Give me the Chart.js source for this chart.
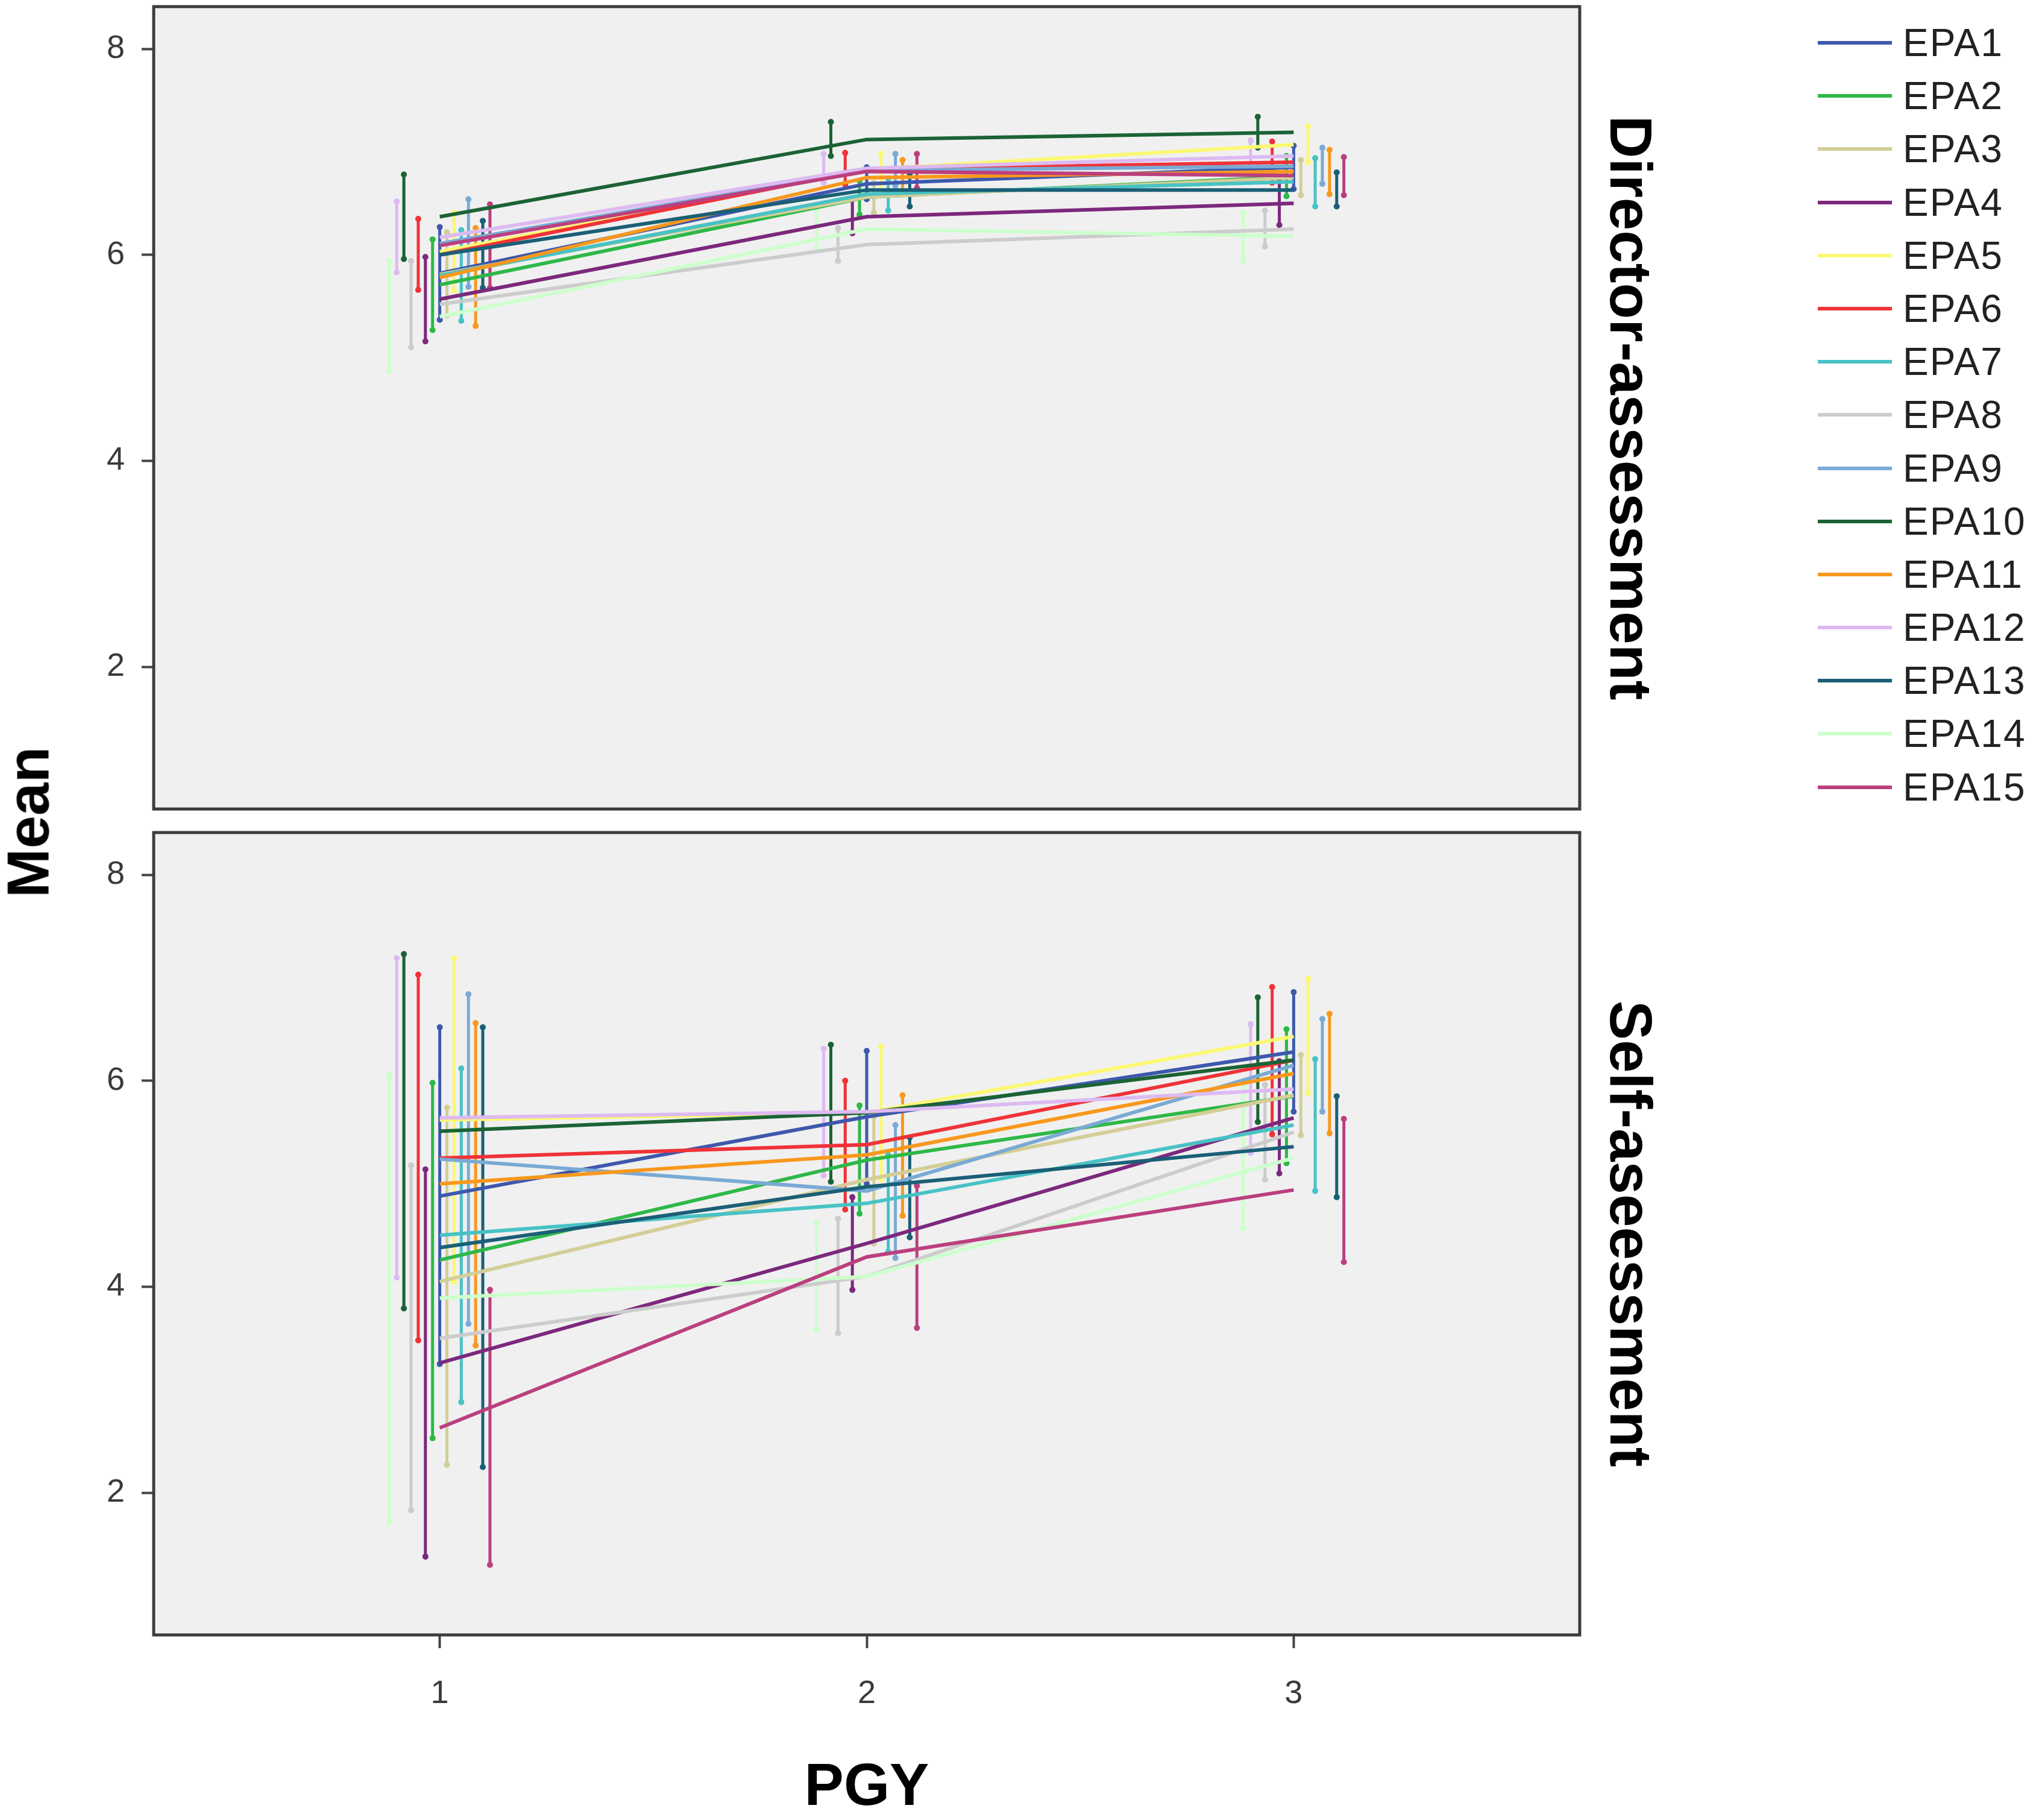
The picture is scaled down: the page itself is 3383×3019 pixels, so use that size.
<!DOCTYPE html>
<html>
<head>
<meta charset="utf-8">
<script src="https://cdn.jsdelivr.net/npm/chart.js@4.4.0/dist/chart.umd.min.js"></script>
<style>
  html, body { margin: 0; padding: 0; background: #fff; }
  body { width: 3383px; height: 3019px; position: relative; overflow: hidden;
         font-family: "Liberation Sans", Arial, sans-serif; }
  canvas { position: absolute; left: 0; }
  #meanLabel { position: absolute; left: 47px; top: 1364px; transform: translate(-50%, -50%) rotate(-90deg);
               font-weight: bold; font-size: 98px; white-space: nowrap; color: #000; }
  #legend { position: absolute; left: 3016px; top: 27px; }
  .item { position: relative; height: 88.2px; }
  .item .swatch { position: absolute; left: 0; top: 41px; width: 123px; height: 6px; }
  .item .txt { position: absolute; left: 141px; top: 0; line-height: 88.2px; font-size: 64px; letter-spacing: 2px; color: #222; white-space: nowrap; }
</style>
</head>
<body>
<canvas id="topChart" width="2800" height="1360" style="top:0px"></canvas>
<canvas id="bottomChart" width="2800" height="1660" style="top:1370px"></canvas>
<div id="meanLabel">Mean</div>
<div id="legend"></div>
<script>
var FONT = '"Liberation Sans", Arial, sans-serif';

// PGY categories and axis ticks
var pgy = [1, 2, 3];
var yTicks = [2, 4, 6, 8];
var epaNames = ['EPA1', 'EPA2', 'EPA3', 'EPA4', 'EPA5', 'EPA6', 'EPA7', 'EPA8',
                'EPA9', 'EPA10', 'EPA11', 'EPA12', 'EPA13', 'EPA14', 'EPA15'];

// Director-assessment: mean and 95% CI, rows = EPA1..EPA15, cols = PGY 1,2,3
var directorMean = [
  [5.82, 6.69, 6.85], [5.71, 6.56, 6.76], [5.81, 6.56, 6.75], [5.57, 6.37, 6.50],
  [6.03, 6.83, 7.07], [6.00, 6.83, 6.90], [5.80, 6.59, 6.71], [5.52, 6.10, 6.25],
  [6.11, 6.82, 6.86], [6.37, 7.12, 7.19], [5.78, 6.75, 6.81], [6.17, 6.84, 6.96],
  [6.00, 6.63, 6.63], [5.40, 6.25, 6.18], [6.09, 6.81, 6.77]
];
var directorLow = [
  [5.37, 6.54, 6.64], [5.27, 6.39, 6.57], [5.41, 6.41, 6.58], [5.16, 6.21, 6.29],
  [5.65, 6.68, 6.90], [5.66, 6.68, 6.70], [5.36, 6.43, 6.47], [5.10, 5.94, 6.08],
  [5.69, 6.67, 6.69], [5.96, 6.96, 7.04], [5.31, 6.59, 6.59], [5.83, 6.70, 6.82],
  [5.68, 6.47, 6.47], [4.87, 6.06, 5.94], [5.68, 6.65, 6.58]
];
var directorHigh = [
  [6.27, 6.85, 7.06], [6.15, 6.72, 6.96], [6.22, 6.70, 6.92], [5.98, 6.54, 6.72],
  [6.41, 6.98, 7.25], [6.35, 6.99, 7.10], [6.24, 6.74, 6.94], [5.94, 6.26, 6.43],
  [6.54, 6.98, 7.04], [6.78, 7.29, 7.34], [6.26, 6.92, 7.02], [6.52, 6.98, 7.11],
  [6.33, 6.79, 6.80], [5.94, 6.45, 6.41], [6.49, 6.98, 6.95]
];

// Self-assessment: mean and 95% CI
var selfMean = [
  [4.88, 5.65, 6.28], [4.26, 5.23, 5.85], [4.05, 5.04, 5.86], [3.26, 4.42, 5.64],
  [5.62, 5.69, 6.43], [5.25, 5.38, 6.20], [4.50, 4.81, 5.57], [3.50, 4.10, 5.50],
  [5.24, 4.93, 6.15], [5.51, 5.69, 6.20], [5.00, 5.28, 6.07], [5.64, 5.70, 5.92],
  [4.38, 4.97, 5.36], [3.89, 4.10, 5.25], [2.63, 4.29, 4.94]
];
var selfLow = [
  [3.25, 5.00, 5.70], [2.53, 4.71, 5.20], [2.27, 4.42, 5.47], [1.38, 3.97, 5.10],
  [4.05, 5.04, 5.88], [3.48, 4.75, 5.48], [2.88, 4.34, 4.93], [1.83, 3.55, 5.04],
  [3.64, 4.28, 5.70], [3.79, 5.02, 5.60], [3.43, 4.69, 5.49], [4.09, 5.08, 5.30],
  [2.25, 4.48, 4.87], [1.71, 3.58, 4.57], [1.30, 3.60, 4.24]
];
var selfHigh = [
  [6.52, 6.29, 6.86], [5.98, 5.76, 6.50], [5.74, 5.65, 6.25], [5.14, 4.87, 6.19],
  [7.19, 6.33, 6.99], [7.03, 6.00, 6.91], [6.12, 5.28, 6.21], [5.18, 4.66, 5.96],
  [6.84, 5.57, 6.60], [7.23, 6.35, 6.81], [6.56, 5.86, 6.65], [7.19, 6.31, 6.55],
  [6.52, 5.45, 5.85], [6.06, 4.62, 5.95], [3.97, 4.98, 5.63]
];

var epaColors = ['#3e58ac', '#2eb848', '#d3ce97', '#7c287d', '#fbf873', '#ef3338', '#48c2c5', '#cccccc',
                 '#7aaad5', '#1b6335', '#f8981d', '#ddbaf1', '#1a5f76', '#ccffcc', '#bb3f7f'];

// error bars are dodged around each PGY: EPA1 centred, then alternating left/right
function dodge(i) {
  if (i === 0) return 0;
  var k = (i % 2) ? -(i + 1) / 2 : i / 2;
  return k * 0.0168;
}

// later EPAs are painted over earlier ones (lower order = drawn last in Chart.js)
function buildDatasets(mean, low, high) {
  var sets = [];
  var n = epaNames.length;
  epaNames.forEach(function(name, i) {
    var pts = [];
    pgy.forEach(function(x, j) {
      var px = x + dodge(i);
      pts.push({x: px, y: low[i][j]}, {x: px, y: high[i][j]}, {x: px, y: null});
    });
    sets.push({
      label: name + ' CI', data: pts, showLine: true, spanGaps: false,
      borderColor: epaColors[i], backgroundColor: epaColors[i],
      borderWidth: 5, pointRadius: 5, pointBorderWidth: 0, order: 2 * n - i
    });
  });
  epaNames.forEach(function(name, i) {
    sets.push({
      label: name,
      data: pgy.map(function(x, j) { return {x: x, y: mean[i][j]}; }),
      showLine: true, borderColor: epaColors[i], backgroundColor: epaColors[i],
      borderWidth: 6, pointRadius: 0, order: n - i
    });
  });
  return sets;
}

var panelFrame = {
  id: 'panelFrame',
  beforeDraw: function(chart) {
    var a = chart.chartArea, ctx = chart.ctx;
    ctx.save();
    ctx.fillStyle = '#f0f0f0';
    ctx.fillRect(a.left, a.top, a.right - a.left, a.bottom - a.top);
    ctx.restore();
  },
  afterDraw: function(chart) {
    var a = chart.chartArea, ctx = chart.ctx;
    ctx.save();
    ctx.strokeStyle = '#3c3c3c';
    ctx.lineWidth = 5;
    ctx.strokeRect(a.left, a.top, a.right - a.left, a.bottom - a.top);
    ctx.restore();
  }
};

function noPad(s) {
  s.paddingTop = 0; s.paddingBottom = 0; s.paddingLeft = 0; s.paddingRight = 0;
}

function makeChart(id, mean, low, high, facet, showX) {
  return new Chart(document.getElementById(id), {
    type: 'scatter',
    data: { datasets: buildDatasets(mean, low, high) },
    options: {
      responsive: false,
      animation: false,
      devicePixelRatio: 1,
      events: [],
      layout: { padding: { left: 0, right: 0, top: 11, bottom: showX ? 0 : 18 } },
      plugins: { legend: { display: false }, tooltip: { enabled: false } },
      scales: {
        x: {
          type: 'linear', min: 0.33, max: 3.67, position: 'bottom', display: showX,
          afterBuildTicks: function(s) { s.ticks = pgy.map(function(v) { return {value: v}; }); },
          afterFit: function(s) { if (showX) s.height = 318; noPad(s); },
          grid: { drawOnChartArea: false, drawTicks: true, tickLength: 22, tickWidth: 4, tickColor: '#444' },
          border: { display: false },
          ticks: { font: { size: 54, family: FONT }, color: '#3a3a3a', padding: 44, maxRotation: 0 },
          title: { display: true, text: 'PGY', color: '#000',
                   font: { size: 98, weight: 'bold', family: FONT }, padding: { top: 0, bottom: 4 } }
        },
        y: {
          type: 'linear', min: 0.62, max: 8.41, position: 'left',
          afterBuildTicks: function(s) { s.ticks = yTicks.map(function(v) { return {value: v}; }); },
          afterFit: function(s) { s.width = 255; noPad(s); },
          grid: { drawOnChartArea: false, drawTicks: true, tickLength: 20, tickWidth: 4, tickColor: '#444' },
          border: { display: false },
          ticks: { font: { size: 54, family: FONT }, color: '#3a3a3a', padding: 28 }
        },
        facet: {
          type: 'linear', position: 'right', min: 0, max: 1,
          afterFit: function(s) { s.width = 179; noPad(s); },
          ticks: { display: false },
          grid: { display: false },
          border: { display: false },
          title: { display: true, text: facet, color: '#000',
                   font: { size: 98, weight: 'bold', family: FONT }, padding: { top: 42, bottom: 0 } }
        }
      }
    },
    plugins: [panelFrame]
  });
}

makeChart('topChart', directorMean, directorLow, directorHigh, 'Director-assessment', false);
makeChart('bottomChart', selfMean, selfLow, selfHigh, 'Self-aseessment', true);

// legend built from the same series names and colours
var legend = document.getElementById('legend');
epaNames.forEach(function(name, i) {
  var item = document.createElement('div');
  item.className = 'item';
  item.innerHTML = '<div class="swatch" style="background:' + epaColors[i] + '"></div><div class="txt">' + name + '</div>';
  legend.appendChild(item);
});
</script>
</body>
</html>
